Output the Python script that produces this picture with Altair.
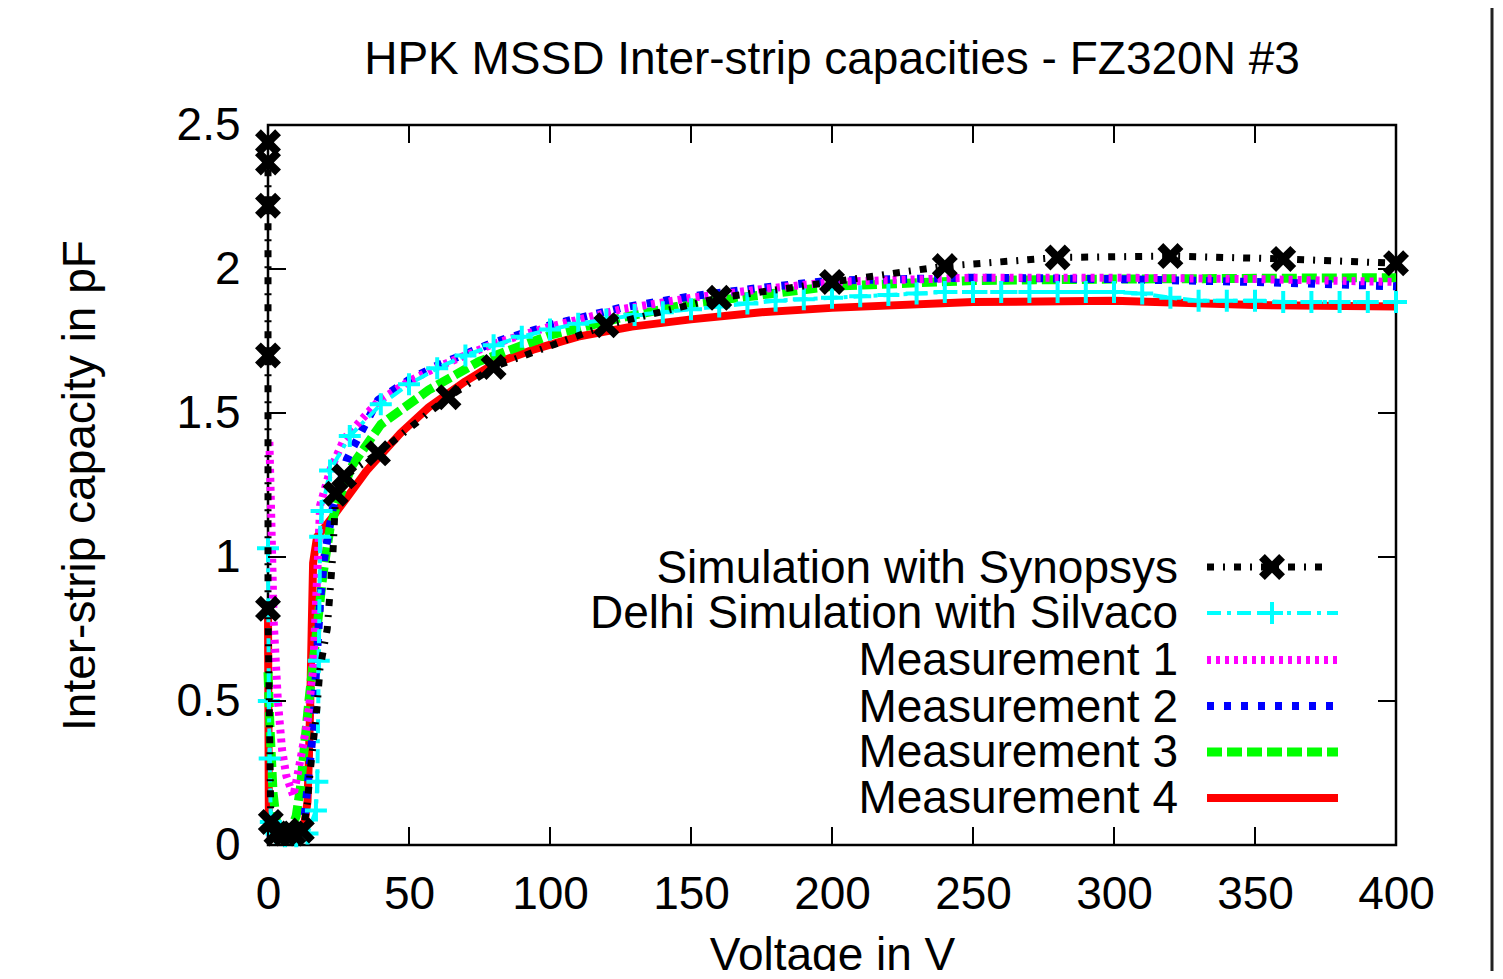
import altair as alt
import pandas as pd

# ---------------- data ----------------
title_text = "HPK MSSD Inter-strip capacities - FZ320N #3"
x_title = "Voltage in V"
y_title = "Inter-strip capacity in pF"
series_names = [
    "Simulation with Synopsys",
    "Delhi Simulation with Silvaco",
    "Measurement 1",
    "Measurement 2",
    "Measurement 3",
    "Measurement 4",
]
x_ticks = [0, 50, 100, 150, 200, 250, 300, 350, 400]
y_ticks = [0, 0.5, 1, 1.5, 2, 2.5]

# Synopsys simulation (line through all points, markers at simulated points)
syn_v = [0, 0, 0, 0, 0, 1, 3, 6, 9, 12, 13, 14, 15, 17.4, 18.4, 21, 23, 24, 27, 39,
         64, 80, 120, 160, 200, 240, 280, 320, 360, 400]
syn_c = [2.44, 2.37, 2.22, 1.70, 0.82, 0.08, 0.04, 0.04, 0.04, 0.05, 0.08, 0.15, 0.26,
         0.48, 0.61, 0.75, 1.01, 1.22, 1.28, 1.36, 1.555, 1.66, 1.805, 1.90, 1.955,
         2.01, 2.04, 2.045, 2.035, 2.02]
syn_mark_v = [0, 0, 0, 0, 0, 1, 3, 6, 9, 12, 24, 27, 39, 64, 80, 120, 160, 200, 240,
              280, 320, 360, 400]
syn_mark_c = [2.44, 2.37, 2.22, 1.70, 0.82, 0.08, 0.04, 0.04, 0.04, 0.05, 1.22, 1.28,
              1.36, 1.555, 1.66, 1.805, 1.90, 1.955, 2.01, 2.04, 2.045, 2.035, 2.02]

# Delhi simulation with Silvaco
silv_v = [0, 0.3, 0.6, 1, 3, 6, 10, 14, 17, 17.5, 18, 18.5, 19, 22, 29,
          40, 50, 60, 70, 80, 90, 100, 110, 120, 130, 140, 150, 160, 170, 180, 190,
          200, 210, 220, 230, 240, 250, 260, 270, 280, 290, 300, 310, 320, 330, 340,
          350, 360, 370, 380, 390, 400]
silv_c = [1.03, 0.50, 0.30, 0.08, 0.04, 0.03, 0.03, 0.04, 0.12, 0.22, 0.64, 1.07, 1.16,
          1.30, 1.42,
          1.53, 1.60, 1.655, 1.70, 1.735, 1.765, 1.79, 1.81, 1.825, 1.84, 1.85, 1.86,
          1.87, 1.88, 1.89, 1.895, 1.90, 1.905, 1.91, 1.915, 1.92, 1.92, 1.92, 1.92,
          1.92, 1.92, 1.92, 1.915, 1.90, 1.89, 1.89, 1.89, 1.885, 1.885, 1.885, 1.885,
          1.885]

# Measurement 1 (magenta)
m1_v = [0.5, 1, 2, 3.5, 5, 6.5, 9, 11, 14, 16, 17.5, 18.5, 22, 27, 39, 50, 60, 80, 100,
        125, 150, 175, 200, 250, 300, 350, 400]
m1_c = [1.40, 1.20, 0.78, 0.50, 0.33, 0.24, 0.17, 0.27, 0.43, 0.61, 0.95, 1.18, 1.30,
        1.41, 1.54, 1.61, 1.66, 1.74, 1.80, 1.86, 1.90, 1.93, 1.955, 1.97, 1.97, 1.965,
        1.955]

# Measurement 2 (blue)
m2_v = [0, 1, 6, 11, 13, 14.5, 16, 17, 18.5, 20, 23, 28, 39, 50, 60, 80, 100, 125, 150,
        175, 200, 250, 300, 350, 400]
m2_c = [0.10, 0.03, 0.03, 0.04, 0.10, 0.25, 0.40, 0.60, 0.85, 1.00, 1.17, 1.34, 1.545,
        1.615, 1.665, 1.745, 1.805, 1.865, 1.905, 1.935, 1.96, 1.97, 1.965, 1.955, 1.94]

# Measurement 3 (green)
m3_v = [0, 0.7, 1.8, 3, 5, 8, 10, 11.5, 13, 14.5, 17, 19.5, 22, 25, 30, 40, 57, 75, 100,
        125, 150, 200, 250, 300, 400]
m3_c = [0.60, 0.41, 0.18, 0.08, 0.05, 0.05, 0.10, 0.20, 0.35, 0.50, 0.72, 0.94, 1.10,
        1.20, 1.32, 1.46, 1.58, 1.68, 1.77, 1.83, 1.88, 1.94, 1.96, 1.965, 1.97]

# Measurement 4 (red)
m4_v = [0, 0.3, 1, 3, 6, 9, 12, 13, 14, 14.5, 15, 15.5, 16, 17.4, 23, 35, 47, 57, 70, 80,
        94, 110, 129, 150, 175, 200, 250, 300, 350, 400]
m4_c = [0.80, 0.10, 0.04, 0.03, 0.03, 0.03, 0.04, 0.08, 0.15, 0.30, 0.50, 0.75, 0.98,
        1.07, 1.14, 1.30, 1.43, 1.52, 1.61, 1.67, 1.72, 1.765, 1.80, 1.825, 1.85, 1.865,
        1.885, 1.89, 1.875, 1.87]

# ---------------- styling ----------------
FONT = "Liberation Sans"
FS = 46
W, H = 1128, 720

X_PATH = ("M-1,-0.55L-0.55,-1L0,-0.45L0.55,-1L1,-0.55L0.45,0L1,0.55L0.55,1"
          "L0,0.45L-0.55,1L-1,0.55L-0.45,0Z")
PLUS_PATH = "M-1,0L1,0M0,-1L0,1"

xs = alt.Scale(domain=[0, 400], nice=False, zero=False)
ys = alt.Scale(domain=[0, 2.5], nice=False, zero=False)

AX_COMMON = dict(grid=False, ticks=False, domain=False, labelFlush=False,
                 labelOverlap=False, labelFont=FONT, labelFontSize=FS,
                 labelColor="black", titleFont=FONT, titleFontSize=FS,
                 titleFontWeight="normal", titleColor="black")
x_axis = alt.Axis(values=x_ticks, title=x_title, labelPadding=27, format="d",
                  titleX=564, titleY=124, titleAlign="center",
                  titleBaseline="alphabetic", **AX_COMMON)
y_axis = alt.Axis(values=y_ticks, title=y_title, labelPadding=28, format=".2~f",
                  titleX=-188, titleY=360, titleAngle=270, titleAlign="center",
                  titleBaseline="middle", **AX_COMMON)


def X(field="V"):
    return alt.X(f"{field}:Q", scale=xs, axis=x_axis)


def Y(field="C"):
    return alt.Y(f"{field}:Q", scale=ys, axis=y_axis)


def line_layer(v, c, color, width, dash=None):
    df = pd.DataFrame({"V": v, "C": c, "i": list(range(len(v)))})
    props = dict(color=color, strokeWidth=width, clip=False, strokeCap="butt",
                 strokeJoin="round")
    if dash:
        props["strokeDash"] = dash
    return alt.Chart(df).mark_line(**props).encode(x=X(), y=Y(), order="i:Q")


def point_layer(v, c, shape, size, color, filled, sw=0):
    df = pd.DataFrame({"V": v, "C": c})
    props = dict(shape=shape, size=size, color=color, filled=filled, opacity=1,
                 clip=False)
    if not filled:
        props["strokeWidth"] = sw
    return alt.Chart(df).mark_point(**props).encode(x=X(), y=Y())


styles = [
    # name, color, width, dash, marker
    (series_names[0], "black", 7, [7, 9, 2, 9], "x"),
    (series_names[1], "#00ffff", 4, [14, 6, 4, 6], "+"),
    (series_names[2], "#ff00ff", 8, [4, 5], None),
    (series_names[3], "#0000ff", 8, [7, 10], None),
    (series_names[4], "#00ff00", 9, [15, 5], None),
    (series_names[5], "#ff0000", 8, None, None),
]

layers = []
# draw order: measurements first (red at bottom), simulations on top
layers.append(line_layer(m4_v, m4_c, styles[5][1], styles[5][2], styles[5][3]))
layers.append(line_layer(m3_v, m3_c, styles[4][1], styles[4][2], styles[4][3]))
layers.append(line_layer(m2_v, m2_c, styles[3][1], styles[3][2], styles[3][3]))
layers.append(line_layer(m1_v, m1_c, styles[2][1], styles[2][2], styles[2][3]))
layers.append(line_layer(silv_v, silv_c, styles[1][1], styles[1][2], styles[1][3]))
layers.append(point_layer(silv_v, silv_c, PLUS_PATH, 484, styles[1][1], False, 4))
layers.append(line_layer(syn_v, syn_c, styles[0][1], styles[0][2], styles[0][3]))
layers.append(point_layer(syn_mark_v, syn_mark_c, X_PATH, 676, "black", True))

# inward ticks (mirrored on all four sides)
xt = pd.DataFrame({"V": x_ticks})
yt = pd.DataFrame({"C": y_ticks})
TL = 18
layers.append(alt.Chart(xt).mark_rule(color="black", strokeWidth=2).encode(
    x=X(), y=alt.value(H), y2=alt.value(H - TL)))
layers.append(alt.Chart(xt).mark_rule(color="black", strokeWidth=2).encode(
    x=X(), y=alt.value(0), y2=alt.value(TL)))
layers.append(alt.Chart(yt).mark_rule(color="black", strokeWidth=2).encode(
    y=Y(), x=alt.value(0), x2=alt.value(TL)))
layers.append(alt.Chart(yt).mark_rule(color="black", strokeWidth=2).encode(
    y=Y(), x=alt.value(W), x2=alt.value(W - TL)))

# chart title as text (centred over the plot)
layers.append(alt.Chart(pd.DataFrame({"label": [title_text]})).mark_text(
    align="center", baseline="alphabetic", font=FONT, fontSize=FS, color="black"
).encode(x=alt.value(W / 2), y=alt.value(-51), text="label:N"))

# key (gnuplot style: right-aligned text, then sample)
key_text_y = [458, 503, 550, 597, 642, 688]
key_line_y = [442, 488, 535, 581, 627, 673]
for k, (name, color, width, dash, marker) in enumerate(styles):
    one = pd.DataFrame({"label": [name]})
    layers.append(alt.Chart(one).mark_text(
        align="right", baseline="alphabetic", font=FONT, fontSize=FS, color="black"
    ).encode(x=alt.value(910), y=alt.value(key_text_y[k]), text="label:N"))
    rprops = dict(color=color, strokeWidth=width, strokeCap="butt")
    if dash:
        rprops["strokeDash"] = dash
    x_end = 1062 if k == 0 else 1070
    layers.append(alt.Chart(one).mark_rule(**rprops).encode(
        x=alt.value(939), x2=alt.value(x_end), y=alt.value(key_line_y[k])))
    if marker == "x":
        layers.append(alt.Chart(one).mark_point(
            shape=X_PATH, size=676, color="black", filled=True, opacity=1
        ).encode(x=alt.value(1004), y=alt.value(key_line_y[k])))
    elif marker == "+":
        layers.append(alt.Chart(one).mark_point(
            shape=PLUS_PATH, size=484, color=color, filled=False, strokeWidth=4,
            opacity=1
        ).encode(x=alt.value(1004), y=alt.value(key_line_y[k])))

# page border line at the right of the original image
layers.append(alt.Chart(pd.DataFrame({"a": [0]})).mark_rule(
    color="#222222", strokeWidth=3).encode(
    x=alt.value(1224), y=alt.value(-125), y2=alt.value(860)))

chart = alt.layer(*layers).properties(
    width=W,
    height=H,
    background="white",
    autosize=alt.AutoSizeParams(type="none"),
    padding={"left": 260, "top": 117, "right": 98, "bottom": 126},
).configure_view(
    stroke="black", strokeWidth=2.5
)

chart.save("out.html", embed_options={"renderer": "svg", "actions": False})
